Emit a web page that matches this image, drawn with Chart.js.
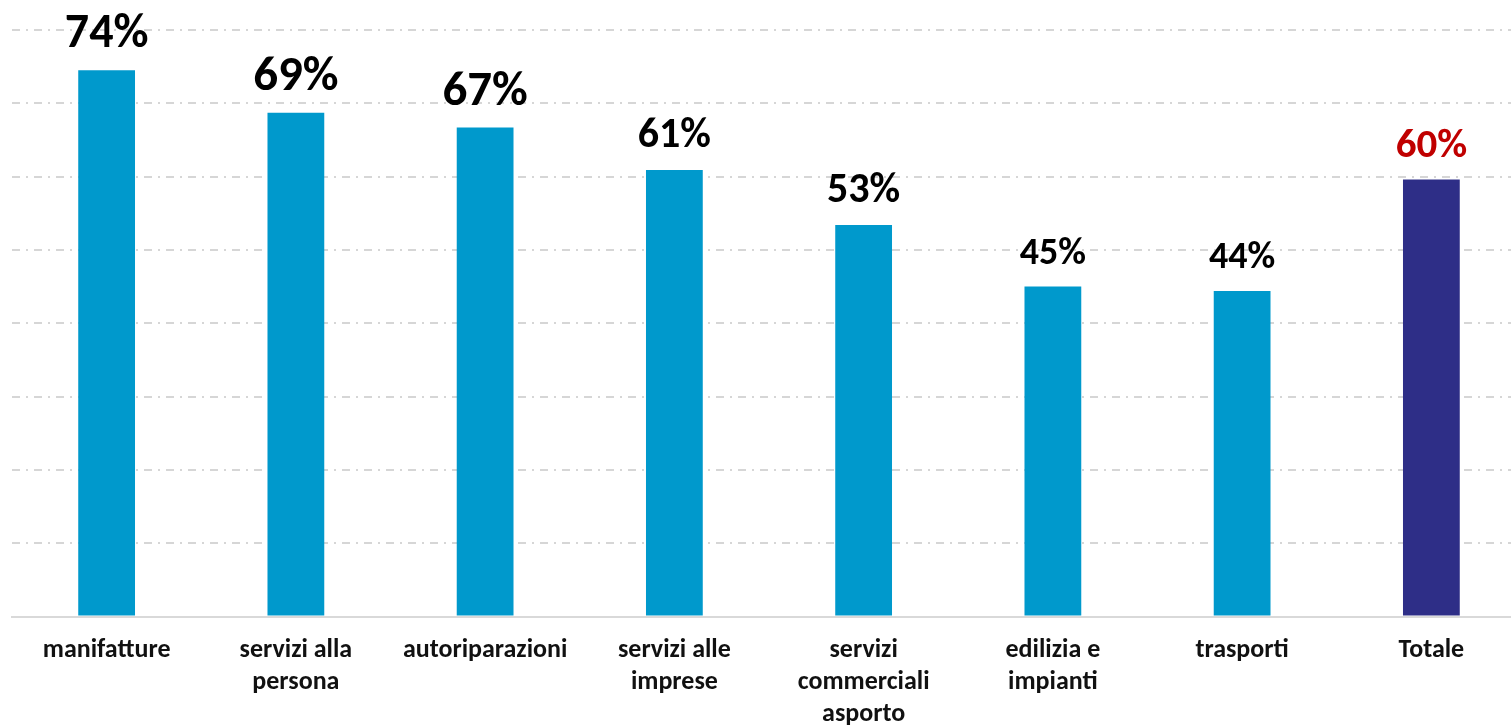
<!DOCTYPE html>
<html>
<head>
<meta charset="utf-8">
<script src="https://cdn.jsdelivr.net/npm/chart.js@4"></script>
<style>
  html, body { margin: 0; padding: 0; background: #fff; overflow: hidden; }
  #wrap { width: 1526px; height: 727px; }
</style>
</head>
<body>
<div id="wrap"><canvas id="myChart"></canvas></div>
<script>
// data
const categories = [
  'manifatture',
  ['servizi alla', 'persona'],
  'autoriparazioni',
  ['servizi alle', 'imprese'],
  ['servizi', 'commerciali', 'asporto'],
  ['edilizia e', 'impianti'],
  'trasporti',
  'Totale'
];
const values = [74.5, 68.7, 66.7, 60.9, 53.4, 45.0, 44.4, 59.6];
const valueLabels = ['74%', '69%', '67%', '61%', '53%', '45%', '44%', '60%'];

// styles
const barColors = ['#0099cc', '#0099cc', '#0099cc', '#0099cc', '#0099cc', '#0099cc', '#0099cc', '#2e2e87'];
const labelColors = ['#000', '#000', '#000', '#000', '#000', '#000', '#000', '#c00000'];
const labelSizes = [48, 49, 49, 42, 42, 38, 38, 41];
const fontFamily = 'Calibri, Carlito, Lato, sans-serif';

// draw the value labels above the bars
const valueLabelPlugin = {
  id: 'valueLabels',
  afterDatasetsDraw(chart) {
    const ctx = chart.ctx;
    const meta = chart.getDatasetMeta(0);
    ctx.save();
    ctx.textAlign = 'center';
    ctx.textBaseline = 'alphabetic';
    meta.data.forEach((bar, i) => {
      ctx.font = 'bold ' + labelSizes[i] + 'px ' + fontFamily;
      ctx.fillStyle = labelColors[i];
      ctx.fillText(valueLabels[i], bar.x, bar.y - 23);
    });
    ctx.restore();
  }
};

const ctx = document.getElementById('myChart').getContext('2d');
const myChart = new Chart(ctx, {
  type: 'bar',
  data: {
    labels: categories,
    datasets: [{
      data: values,
      backgroundColor: barColors,
      borderWidth: 0,
      barPercentage: 0.3,
      categoryPercentage: 1
    }]
  },
  options: {
    responsive: true,
    maintainAspectRatio: false,
    animation: false,
    layout: { padding: { top: 30, left: 12, right: 0, bottom: 0 } },
    plugins: {
      legend: { display: false },
      tooltip: { enabled: false }
    },
    scales: {
      x: {
        grid: { display: false, drawTicks: false },
        border: { display: true, color: '#d9d9d9', width: 2 },
        ticks: {
          color: '#111',
          padding: 18,
          maxRotation: 0,
          autoSkip: false,
          font: { family: fontFamily, size: 26, weight: 'bold', lineHeight: 1.23 }
        },
        afterFit(scale) { scale.height = 110.5; }
      },
      y: {
        min: 0,
        max: 80,
        ticks: { display: false, stepSize: 10 },
        border: { display: false, dash: [8, 6, 2, 6] },
        grid: {
          drawTicks: false,
          lineWidth: 2,
          color: (c) => (c.tick && c.tick.value === 0 ? 'rgba(0,0,0,0)' : '#d6d6d6')
        }
      }
    }
  },
  plugins: [valueLabelPlugin]
});
</script>
</body>
</html>
